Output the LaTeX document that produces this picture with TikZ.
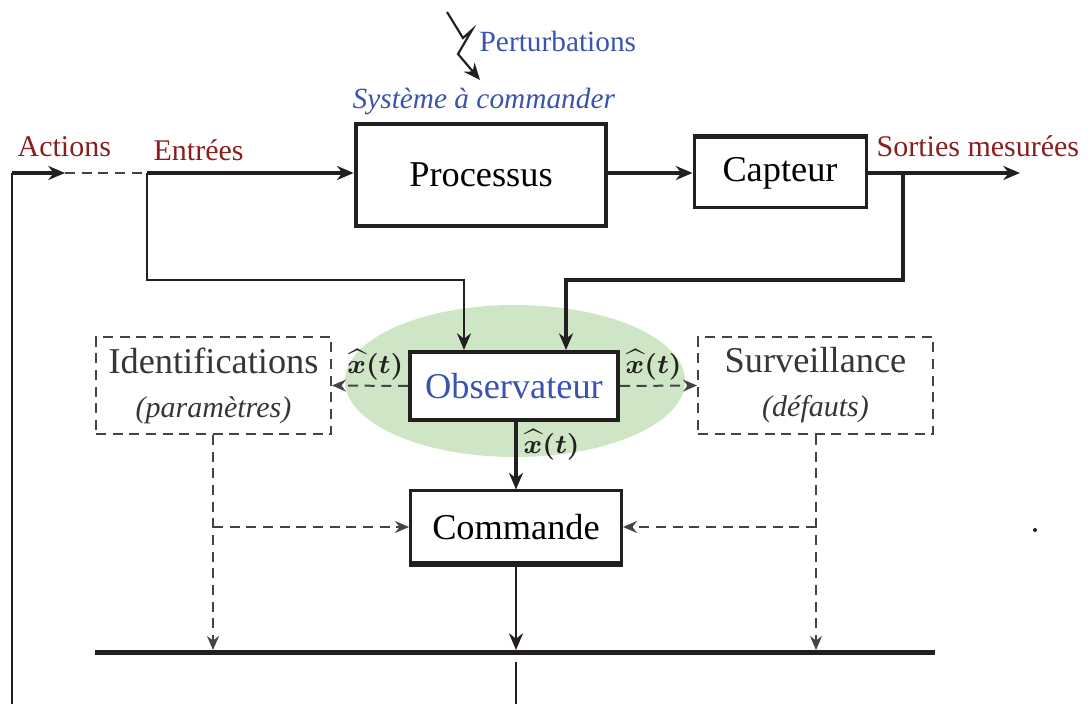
\documentclass[tikz,border=0pt]{standalone}
\usepackage{fontspec}
\setmainfont{Liberation Serif}
\usepackage{bm}
\usetikzlibrary{arrows.meta,shapes.geometric}
\definecolor{ink}{HTML}{231F20}
\definecolor{lblred}{HTML}{8B1E1E}
\definecolor{lblblue}{HTML}{3A52B0}
\definecolor{halogreen}{HTML}{CEE6C5}
\definecolor{dashgray}{HTML}{444444}
\tikzset{
  tip/.style={-{Stealth[length=5pt,width=4.2pt]}},
  smalltip/.style={-{Stealth[length=4.2pt,width=3.6pt]}},
  thickline/.style={draw=ink,line width=1.2pt},
  midline/.style={draw=ink,line width=0.85pt},
  thinline/.style={draw=ink,line width=0.65pt},
  dashline/.style={draw=dashgray,line width=0.6pt,dash pattern=on 3pt off 2pt},
  boxtxt/.style={font=\fontsize{10.9}{13.2}\selectfont},
  solidbox/.style={draw=ink,fill=white,inner sep=0pt,boxtxt},
  dashbox/.style={draw=dashgray,line width=0.6pt,dash pattern=on 3pt off 2pt,inner sep=0pt,align=center,boxtxt,text=ink!90},
  redlbl/.style={text=lblred,font=\fontsize{9}{10}\selectfont,inner sep=0pt},
  bluelbl/.style={text=lblblue,font=\fontsize{8.8}{10}\selectfont,inner sep=0pt},
  hatlbl/.style={font=\fontsize{7.8}{9}\selectfont,inner sep=0pt,text=ink},
}
\begin{document}
\begin{tikzpicture}[x=0.3pt,y=-0.3pt]
\useasboundingbox (0,0) rectangle (1090,704);

% green halo
\fill[halogreen] (515,381) ellipse [x radius=51pt, y radius=22.8pt];

% boxes
\node[solidbox,line width=1.4pt,minimum width=75pt,minimum height=30.6pt] (proc) at (481,175) {Processus};
\node[solidbox,line width=0.9pt,minimum width=51.6pt,minimum height=21pt] (cap) at (780,173) {Capteur};
\node[solidbox,line width=1.2pt,minimum width=62.4pt,minimum height=20.4pt,text=lblblue] (obs) at (514,386) {Observateur};
\node[solidbox,line width=0.9pt,minimum width=63.3pt,minimum height=21.6pt] (com) at (516,527) {Commande};
\node[dashbox,minimum width=70.5pt,minimum height=29.1pt] (ident) at (213.5,385.5) {Identifications\\{\fontsize{9}{10}\selectfont\itshape (paramètres)}};
\node[dashbox,minimum width=70.5pt,minimum height=29.1pt] (surv) at (815.5,385.5) {Surveillance\\{\fontsize{9}{10}\selectfont\itshape (défauts)}};

% thicker edges
\draw[ink,line width=1.5pt] (cap.north west) -- (cap.north east);
\draw[ink,line width=1.5pt] (com.south west) -- (com.south east);

% labels
\node[redlbl,anchor=base west] (lact) at (17,157) {Actions};
\node[redlbl,anchor=base west] (lent) at (153,161) {Entrées};
\node[redlbl,anchor=base west] (lsor) at (876,157) {Sorties mesurées};
\node[bluelbl,anchor=base west] (lpert) at (479,52) {Perturbations};
\node[bluelbl,anchor=base west,font=\fontsize{8.8}{10}\selectfont\itshape] (lsys) at (352,109) {Système à commander};

% coordinates
\coordinate (bl) at (12,704);
\coordinate (act) at (65,173);
\coordinate (ent) at (147,173);
\coordinate (entd) at (147,280);
\coordinate (entr) at (464,280);
\coordinate (out) at (1020,173);
\coordinate (sbr) at (903,173);
\coordinate (sbd) at (903,280);
\coordinate (sbl) at (566,280);
\coordinate (idc) at (213,527);
\coordinate (idb) at (213,650);
\coordinate (svc) at (816,527);
\coordinate (svb) at (816,650);
\coordinate (cmb) at (516,650);
\coordinate (barl) at (95,652);
\coordinate (barr) at (935,652);
\coordinate (low) at (516,662);
\coordinate (lowb) at (516,704);
\coordinate (z1) at (447,12);
\coordinate (z2) at (463,38);
\coordinate (z3) at (472,30);
\coordinate (z4) at (458,54);
\coordinate (ptip) at (480,80);

% perturbation zigzag
\draw[thinline,tip] (z1) -- (z2) -- (z3) -- (z4) -- (ptip);

% feedback & inputs
\draw[thinline] (bl) -- (bl |- act);
\draw[thickline,tip] (bl |- act) -- (act);
\draw[dashline] (act) -- (ent);
\draw[thickline,tip] (ent) -- (ent -| proc.west);
\draw[thinline,tip] (ent) -- (entd) -- (entr) -- (entr |- obs.north);
\draw[thickline,tip] (proc.east |- cap.west) -- (cap.west);
\draw[thickline,tip] (cap.east) -- (out);
\draw[thickline,tip] (sbr) -- (sbd) -- (sbl) -- (sbl |- obs.north);

% observer outputs
\draw[dashline,smalltip] (obs.west) -- (ident.east);
\draw[dashline,smalltip] (obs.east) -- (surv.west);
\draw[thickline,tip] (obs.south -| com.north) -- (com.north);
\node[hatlbl,anchor=south east] (h1) at (404,381) {$\bm{\widehat{x}(t)}$};
\node[hatlbl,anchor=south west] (h2) at (625,381) {$\bm{\widehat{x}(t)}$};
\node[hatlbl,anchor=west] (h3) at (523,445) {$\bm{\widehat{x}(t)}$};

% dashed to commande and bar
\draw[dashline,smalltip] (ident.south -| idc) -- (idb);
\draw[dashline,smalltip] (idc) -- (com.west);
\draw[dashline,smalltip] (surv.south -| svc) -- (svb);
\draw[dashline,smalltip] (svc) -- (com.east);
\draw[midline,tip] (com.south) -- (cmb);
\draw[ink,line width=1.5pt] (barl) -- (barr);
\draw[midline] (low) -- (lowb);

% stray dot
\fill[ink] (1035,530) circle[radius=0.6pt];
\end{tikzpicture}
\end{document}
